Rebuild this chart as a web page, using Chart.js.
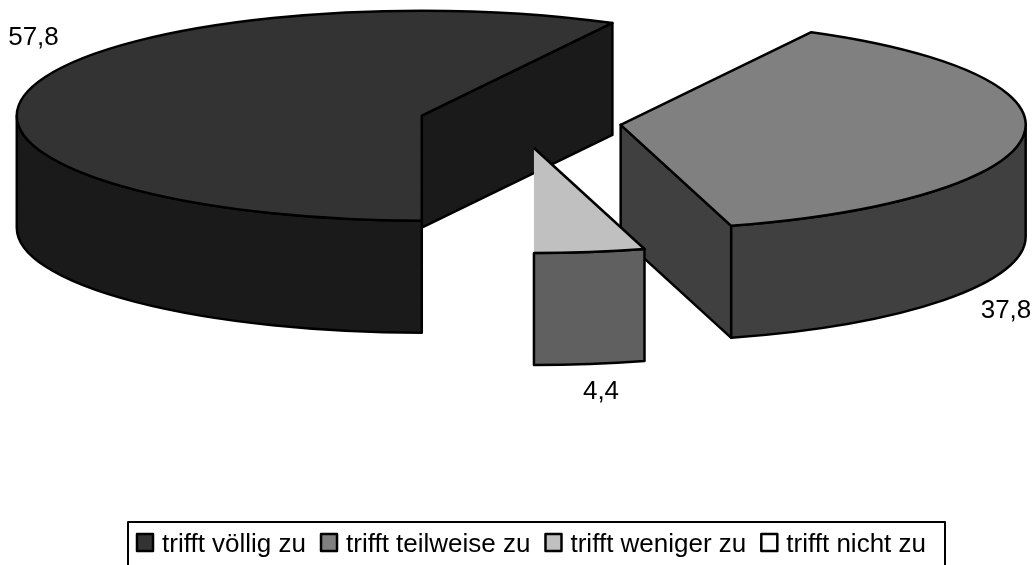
<!DOCTYPE html>
<html>
<head>
<meta charset="utf-8">
<style>html,body{margin:0;padding:0;background:#fff}canvas{display:block}</style>
<script src="https://cdn.jsdelivr.net/npm/chart.js@4"></script>
</head>
<body>
<canvas id="c" width="1034" height="565"></canvas>
<script>
const categories = ['trifft völlig zu', 'trifft teilweise zu', 'trifft weniger zu', 'trifft nicht zu'];
const values = [57.8, 37.8, 4.4, 0];
const topColors = ['#333333', '#808080', '#c0c0c0', '#ffffff'];
const sideColors = ['#1a1a1a', '#404040', '#606060', '#808080'];

const GEO = {cx: 520, cy: 122, a: 405, b: 105, depth: 112, explode: 0.25};
const labelAnchors = [[33.5, 45], [1006, 318], [601, 399]];
const FONT = '26px "Liberation Sans", Arial, sans-serif';
const BLACK = '#000000';
const SOFT_EDGE_SLICE = 2;

function centerOf(arc) {
  const mid = (arc.startAngle + arc.endAngle) / 2;
  return {
    x: GEO.cx + Math.cos(mid) * GEO.explode * GEO.a,
    y: GEO.cy + Math.sin(mid) * GEO.explode * GEO.b
  };
}
function rim(c, t, dz) {
  return {x: c.x + Math.cos(t) * GEO.a, y: c.y + Math.sin(t) * GEO.b + (dz || 0)};
}
function paint(ctx, fill) {
  ctx.fillStyle = fill;
  ctx.fill();
  ctx.stroke();
}
function drawCut(ctx, c, t, fill) {
  const p = rim(c, t);
  ctx.beginPath();
  ctx.moveTo(c.x, c.y);
  ctx.lineTo(p.x, p.y);
  ctx.lineTo(p.x, p.y + GEO.depth);
  ctx.lineTo(c.x, c.y + GEO.depth);
  ctx.closePath();
  paint(ctx, fill);
}
function drawWall(ctx, c, from, to, fill) {
  const q = rim(c, to);
  ctx.beginPath();
  ctx.ellipse(c.x, c.y, GEO.a, GEO.b, 0, from, to);
  ctx.lineTo(q.x, q.y + GEO.depth);
  ctx.ellipse(c.x, c.y + GEO.depth, GEO.a, GEO.b, 0, to, from, true);
  ctx.closePath();
  paint(ctx, fill);
}
function drawSides(ctx, arc, fill) {
  const c = centerOf(arc);
  const s = arc.startAngle, e = arc.endAngle;
  if (Math.sin(s - Math.PI / 2) > 1e-6) drawCut(ctx, c, s, fill);
  if (Math.sin(e + Math.PI / 2) > 1e-6) drawCut(ctx, c, e, fill);
  for (let k = -1; k <= 1; k++) {
    const lo = Math.max(s, k * 2 * Math.PI), hi = Math.min(e, k * 2 * Math.PI + Math.PI);
    if (hi > lo) drawWall(ctx, c, lo, hi, fill);
  }
}

const pie3d = {
  id: 'pie3d',
  beforeDatasetsDraw(chart) {
    const ctx = chart.ctx;
    const arcs = chart.getDatasetMeta(0).data;
    ctx.save();
    ctx.lineWidth = 2.5;
    ctx.strokeStyle = BLACK;
    ctx.lineJoin = 'round';
    arcs.forEach((arc, i) => {
      if (arc.circumference > 0) drawSides(ctx, arc, sideColors[i]);
    });
    arcs.forEach((arc, i) => {
      if (!(arc.circumference > 0)) return;
      const c = centerOf(arc);
      ctx.save();
      ctx.translate(c.x, c.y);
      ctx.scale(GEO.a / arc.outerRadius, GEO.b / arc.outerRadius);
      ctx.translate(-arc.x, -arc.y);
      arc.draw(ctx, chart.chartArea);
      ctx.restore();
      ctx.beginPath();
      ctx.moveTo(c.x, c.y);
      ctx.ellipse(c.x, c.y, GEO.a, GEO.b, 0, arc.startAngle, arc.endAngle);
      if (i !== SOFT_EDGE_SLICE) ctx.closePath();
      ctx.stroke();
    });
    ctx.restore();
    return false;
  },
  afterDraw(chart) {
    const ctx = chart.ctx;
    ctx.save();
    ctx.font = FONT;
    ctx.fillStyle = BLACK;
    values.forEach((v, i) => {
      if (!labelAnchors[i]) return;
      ctx.textAlign = 'center';
      ctx.textBaseline = 'alphabetic';
      ctx.fillText(String(v).replace('.', ','), labelAnchors[i][0], labelAnchors[i][1]);
    });
    ctx.textAlign = 'left';
    ctx.lineWidth = 2;
    ctx.strokeStyle = BLACK;
    ctx.lineJoin = 'round';
    ctx.strokeRect(128, 522, 817, 60);
    let x = 137;
    categories.forEach((name, i) => {
      ctx.lineWidth = 2.5;
      ctx.fillStyle = topColors[i];
      ctx.fillRect(x, 534, 16, 17);
      ctx.strokeRect(x, 534, 16, 17);
      ctx.fillStyle = BLACK;
      ctx.fillText(name, x + 25, 552);
      x += 25 + ctx.measureText(name).width + 15;
    });
    ctx.restore();
  }
};

new Chart(document.getElementById('c'), {
  type: 'pie',
  data: {
    labels: categories,
    datasets: [{data: values, backgroundColor: topColors, borderWidth: 0}]
  },
  options: {
    responsive: false,
    animation: false,
    rotation: 180,
    radius: 100,
    events: [],
    plugins: {legend: {display: false}, tooltip: {enabled: false}}
  },
  plugins: [pie3d]
});
</script>
</body>
</html>
